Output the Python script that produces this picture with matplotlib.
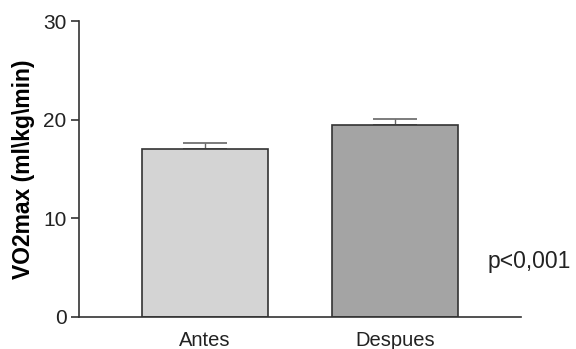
import matplotlib
matplotlib.use('Agg')
import matplotlib.pyplot as plt

# Data
groups = ['Antes', 'Despues']
vo2max = [17.0, 19.5]
sem = [0.6, 0.6]
colors = ['#d4d4d4', '#a4a4a4']

plt.rcParams['font.family'] = ['Liberation Sans', 'DejaVu Sans']

fig = plt.figure(figsize=(5.76, 3.49), dpi=100)
ax = fig.add_axes([0.137, 0.0917, 0.767, 0.848])

x = range(len(groups))
ax.bar(x, vo2max, width=0.663, color=colors, edgecolor='#333333', linewidth=1.2, zorder=2)
ax.errorbar(x, vo2max, yerr=[[0, 0], sem], fmt='none', ecolor='#666666',
            elinewidth=1.0, capsize=16, capthick=1.2, zorder=1)

ax.set_xlim(-0.663, 1.663)
ax.set_ylim(0, 30)
ax.set_yticks([0, 10, 20, 30])
ax.set_xticks(list(x))
ax.set_xticklabels(groups, fontsize=14.5, color='#222222')
ax.tick_params(axis='x', length=0, pad=10)
ax.tick_params(axis='y', length=6, width=1.2, color='#333333', labelsize=15,
               labelcolor='#222222', pad=3)
ax.set_ylabel('VO2max (ml\\kg\\min)', fontsize=16.5, fontweight='bold', labelpad=6)

for side in ['top', 'right']:
    ax.spines[side].set_visible(False)
for side in ['left', 'bottom']:
    ax.spines[side].set_color('#333333')
    ax.spines[side].set_linewidth(1.2)

fig.text(0.847, 0.25, 'p<0,001', fontsize=16.5, color='#222222', va='center', ha='left')

plt.savefig('out.png', dpi=100)
